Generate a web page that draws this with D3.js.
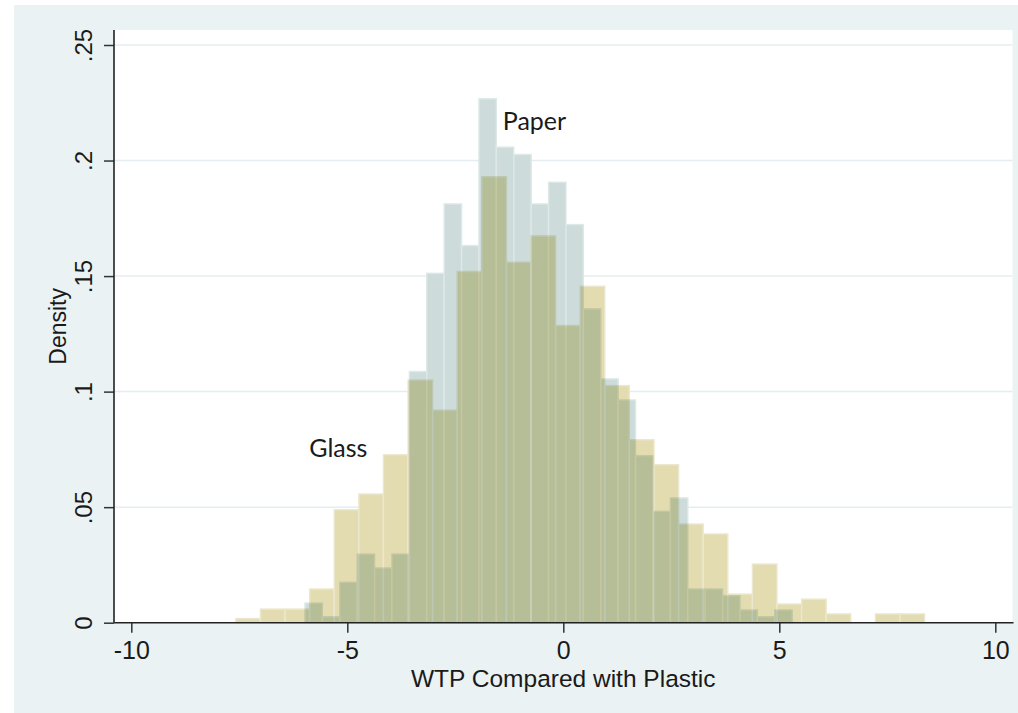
<!DOCTYPE html>
<html>
<head>
<meta charset="utf-8">
<script src="https://cdn.jsdelivr.net/npm/d3@7"></script>
<style>
  html, body { margin: 0; padding: 0; background: #ffffff; }
  svg { display: block; }
</style>
</head>
<body>
<div id="chart"></div>
<script>
// Histogram densities (28 bins each)
const glassStart = -7.58;
const glassWidth = 0.5694;
const glassDensity = [0.0018, 0.0059, 0.0059, 0.0146, 0.0489, 0.0557, 0.0727, 0.105, 0.092, 0.152,
  0.193, 0.156, 0.1674, 0.1286, 0.1456, 0.1026, 0.0792, 0.0684, 0.0427, 0.0384,
  0.0124, 0.0254, 0.0081, 0.0102, 0.0038, 0, 0.0038, 0.0038];

const paperStart = -5.98;
const paperWidth = 0.4028;
const paperDensity = [0.0085, 0.0026, 0.0175, 0.0297, 0.0237, 0.0297, 0.1087, 0.1512, 0.1812, 0.1632,
  0.2267, 0.2058, 0.2026, 0.1812, 0.1906, 0.1723, 0.1358, 0.1055, 0.0964, 0.0723,
  0.0482, 0.054, 0.0146, 0.0146, 0.0117, 0.0055, 0.0026, 0.0055];

const xTicks = [-10, -5, 0, 5, 10];
const xTickLabels = ['-10', '-5', '0', '5', '10'];
const yTicks = [0, 0.05, 0.1, 0.15, 0.2, 0.25];
const yTickLabels = ['0', '.05', '.1', '.15', '.2', '.25'];

const seriesLabels = [
  { name: 'Paper', x: -1.40, y: 0.2133 },
  { name: 'Glass', x: -5.88, y: 0.0719 }
];

const W = 1018, H = 713;
const plot = { left: 114, right: 1012.5, top: 30, bottom: 622.7 };

const x = d3.scaleLinear().domain([-10, 10]).range([131.3, 995.3]);
const y = d3.scaleLinear().domain([0, 0.25]).range([622.7, 45]);

const svg = d3.select('#chart').append('svg')
  .attr('width', W)
  .attr('height', H);

// fondo del gráfico (estilo s2color)
svg.append('rect')
  .attr('x', 14).attr('y', 5)
  .attr('width', W - 14).attr('height', H - 5)
  .attr('fill', '#eaf2f3');

svg.append('rect')
  .attr('x', plot.left).attr('y', plot.top)
  .attr('width', plot.right - plot.left)
  .attr('height', plot.bottom - plot.top)
  .attr('fill', '#ffffff');

// grid
svg.append('g')
  .selectAll('line')
  .data(yTicks.slice(1))
  .enter()
  .append('line')
  .attr('x1', plot.left).attr('x2', plot.right)
  .attr('y1', d => y(d)).attr('y2', d => y(d))
  .attr('stroke', '#e4eef0')
  .attr('stroke-width', 1.5);

function toBins(start, width, dens) {
  return dens.map((d, i) => ({ x0: start + i * width, x1: start + (i + 1) * width, v: d }));
}

const glassBins = toBins(glassStart, glassWidth, glassDensity).filter(d => d.v > 0);
const paperBins = toBins(paperStart, paperWidth, paperDensity).filter(d => d.v > 0);

const bars = svg.append('g').style('isolation', 'isolate');

bars.append('g')
  .selectAll('rect')
  .data(glassBins)
  .enter()
  .append('rect')
  .attr('x', d => x(d.x0))
  .attr('y', d => y(d.v))
  .attr('width', d => x(d.x1) - x(d.x0))
  .attr('height', d => y(0) - y(d.v))
  .attr('fill', '#e3dcb1')
  .attr('stroke', '#ece8cf')
  .attr('stroke-width', 1.4);

bars.append('g')
  .style('mix-blend-mode', 'multiply')
  .selectAll('rect')
  .data(paperBins)
  .enter()
  .append('rect')
  .attr('x', d => x(d.x0))
  .attr('y', d => y(d.v))
  .attr('width', d => x(d.x1) - x(d.x0))
  .attr('height', d => y(0) - y(d.v))
  .attr('fill', '#cddcdb')
  .attr('stroke', '#dde8e7')
  .attr('stroke-width', 1.4);

// ejes
const axisFont = '"Liberation Sans", Arial, sans-serif';

const xAxis = svg.append('g')
  .attr('transform', `translate(0,${plot.bottom})`)
  .call(d3.axisBottom(x).tickValues(xTicks).tickSize(10).tickPadding(9).tickFormat((d, i) => xTickLabels[i]));
xAxis.select('.domain').remove();
xAxis.selectAll('line').attr('stroke', '#333').attr('stroke-width', 1.5);
xAxis.selectAll('text')
  .style('font-family', axisFont)
  .style('font-size', '25px')
  .attr('fill', '#1a1a1a');

const yAxis = svg.append('g')
  .attr('transform', `translate(${plot.left},0)`)
  .call(d3.axisLeft(y).tickValues(yTicks).tickSize(10).tickFormat((d, i) => yTickLabels[i]));
yAxis.select('.domain').remove();
yAxis.selectAll('line').attr('stroke', '#333').attr('stroke-width', 1.5);
yAxis.selectAll('text')
  .attr('x', null)
  .attr('dy', null)
  .attr('text-anchor', 'middle')
  .attr('transform', 'translate(-22.5,0) rotate(-90)')
  .style('font-family', axisFont)
  .style('font-size', '24px')
  .attr('fill', '#1a1a1a');

// líneas de los ejes
svg.append('line')
  .attr('x1', plot.left).attr('x2', plot.left)
  .attr('y1', plot.top).attr('y2', plot.bottom)
  .attr('stroke', '#222').attr('stroke-width', 1.6);

svg.append('line')
  .attr('x1', plot.left).attr('x2', plot.right + 1)
  .attr('y1', plot.bottom).attr('y2', plot.bottom)
  .attr('stroke', '#222').attr('stroke-width', 1.6);

// títulos
svg.append('text')
  .attr('x', (plot.left + plot.right) / 2)
  .attr('y', 687)
  .attr('text-anchor', 'middle')
  .style('font-family', axisFont)
  .style('font-size', '24.5px')
  .attr('fill', '#1a1a1a')
  .text('WTP Compared with Plastic');

svg.append('text')
  .attr('transform', `translate(66,${(plot.top + plot.bottom) / 2}) rotate(-90)`)
  .attr('text-anchor', 'middle')
  .style('font-family', axisFont)
  .style('font-size', '23px')
  .attr('fill', '#1a1a1a')
  .text('Density');

// etiquetas de las series
svg.append('g')
  .selectAll('text')
  .data(seriesLabels)
  .enter()
  .append('text')
  .attr('x', d => x(d.x))
  .attr('y', d => y(d.y))
  .style('font-family', 'Lato, "Open Sans", sans-serif')
  .style('font-size', '25px')
  .attr('fill', '#1a1a1a')
  .text(d => d.name);
</script>
</body>
</html>
